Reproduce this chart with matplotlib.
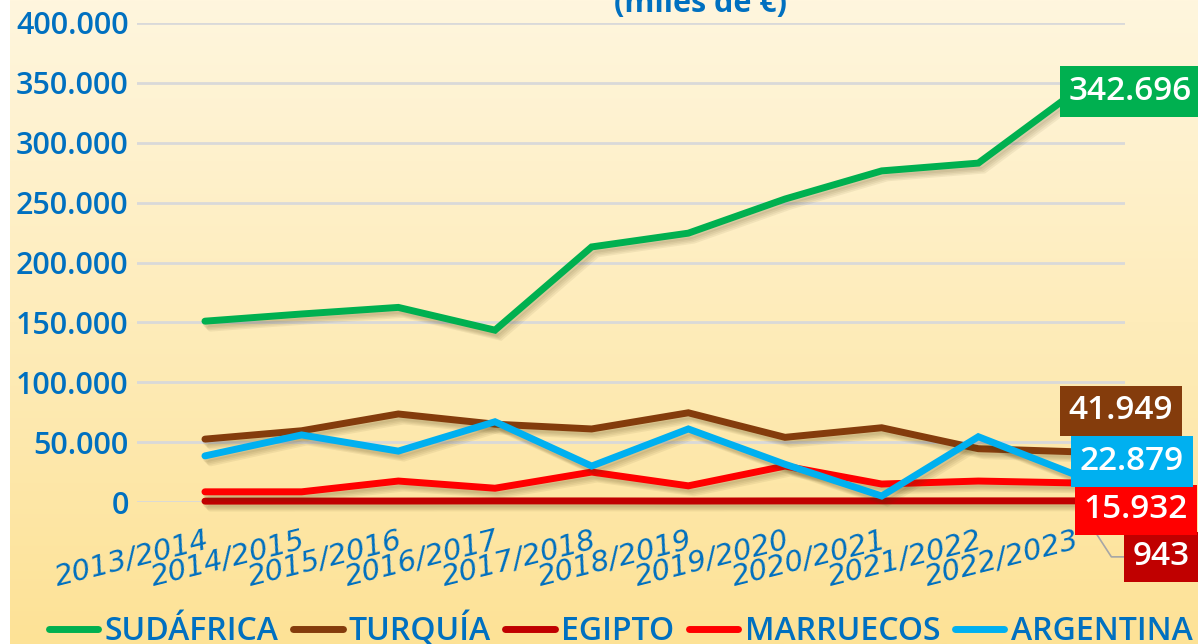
import matplotlib
matplotlib.use("Agg")
import matplotlib.pyplot as plt
import matplotlib.patheffects as pe
import numpy as np

# data (miles de euros)
campanas = ['2013/2014', '2014/2015', '2015/2016', '2016/2017', '2017/2018',
            '2018/2019', '2019/2020', '2020/2021', '2021/2022', '2022/2023']
sudafrica = [151000, 157000, 162500, 143500, 213000, 224500, 253000, 276500, 283000, 342696]
turquia = [52500, 59500, 73500, 65000, 61000, 74500, 54000, 62000, 44500, 41949]
egipto = [700, 800, 800, 900, 900, 800, 900, 900, 950, 943]
marruecos = [8500, 8500, 17500, 11500, 25000, 13500, 30000, 15000, 17500, 15932]
argentina = [38500, 56000, 42500, 67000, 30000, 61000, 31500, 5000, 54500, 22879]

nombres = ['SUDÁFRICA', 'TURQUÍA', 'EGIPTO', 'MARRUECOS', 'ARGENTINA']
series = [sudafrica, turquia, egipto, marruecos, argentina]
colores = ['#00B050', '#843C0C', '#C00000', '#FF0000', '#00B0F0']
# label offsets in pixels from the last point
offsets = [(55, 0), (46, 41), (86, -56), (61, -27), (57, 13)]

AZUL = '#0070C0'
FUENTE = 'Open Sans'

W, H = 1198, 644
fig = plt.figure(figsize=(W / 100, H / 100), dpi=100)
fig.patch.set_facecolor('white')

# background gradient
bg = fig.add_axes([10 / W, 0, 1 - 10 / W, 1])
grad = np.linspace(0, 1, 256).reshape(-1, 1)
top = np.array([255, 246, 222]) / 255
bot = np.array([253, 226, 150]) / 255
img = top + (bot - top) * grad[:, :, None]
bg.imshow(img, aspect='auto', extent=[0, 1, 0, 1])
bg.axis('off')

ax = fig.add_axes([137 / W, (H - 502) / H, (1125 - 137) / W, 479 / H])
ax.patch.set_alpha(0)
x = np.arange(len(campanas))

# soft shadow: a few faint offset copies
sombra = [pe.SimpleLineShadow(offset=(d, -d - 1), shadow_color='#4a3a10', alpha=0.07)
          for d in (1, 2, 3, 4)]

lineas = []
for nombre, datos, col in zip(nombres, series, colores):
    l, = ax.plot(x, datos, color=col, lw=5, label=nombre, clip_on=False,
                 solid_capstyle='round', solid_joinstyle='miter',
                 path_effects=sombra + [pe.Normal()])
    lineas.append(l)

ax.set_xlim(-0.703, 9.517)
ax.set_ylim(0, 400000)
ax.set_yticks(np.arange(0, 400001, 50000))
ax.set_yticklabels([f'{int(v):,}'.replace(',', '.') for v in np.arange(0, 400001, 50000)],
                   color=AZUL, fontsize=22, fontfamily=FUENTE, fontweight='semibold')
ax.set_xticks(x)
ax.set_xticklabels(campanas, rotation=14, ha='right', va='top', rotation_mode='anchor',
                   color=AZUL, fontsize=21, fontfamily='DejaVu Sans', style='oblique')
ax.tick_params(axis='both', length=0)
ax.tick_params(axis='y', pad=6)
ax.tick_params(axis='x', pad=17)
ax.yaxis.grid(True, color='#D9D9D9', lw=2)
ax.set_axisbelow(True)
for s in ax.spines.values():
    s.set_visible(False)

# end labels
for i, (datos, col, off) in enumerate(zip(series, colores, offsets)):
    v = datos[-1]
    txt = f'{v:,}'.replace(',', '.')
    kw = {}
    if nombres[i] == 'EGIPTO':
        kw['arrowprops'] = dict(arrowstyle='-', color='#A6A6A6', lw=1.2,
                                relpos=(0, 0.5), shrinkA=0, shrinkB=26,
                                connectionstyle='angle,angleA=0,angleB=-57,rad=0')
    ax.annotate(txt, xy=(x[-1], v), xytext=off, textcoords='offset pixels',
                ha='center', va='center', color='white', fontsize=24,
                fontfamily=FUENTE, fontweight='semibold', annotation_clip=False,
                bbox=dict(boxstyle='square,pad=0.26', fc=col, ec='none'), **kw)

fig.text(0.585, 1 - 12 / H, '(miles de €)', ha='center', va='baseline',
         color=AZUL, fontsize=22, fontfamily=FUENTE, fontweight='bold')

leg = fig.legend(handles=lineas, loc='center', bbox_to_anchor=(0.518, 14 / H), ncol=5,
                 frameon=False, handlelength=1.55, handletextpad=0.2, columnspacing=0.45,
                 prop={'family': FUENTE, 'size': 23, 'weight': 'semibold'})
for t in leg.get_texts():
    t.set_color(AZUL)
for h in leg.legend_handles:
    h.set_path_effects([])
    h.set_linewidth(5)

fig.savefig('out.png', dpi=100)
